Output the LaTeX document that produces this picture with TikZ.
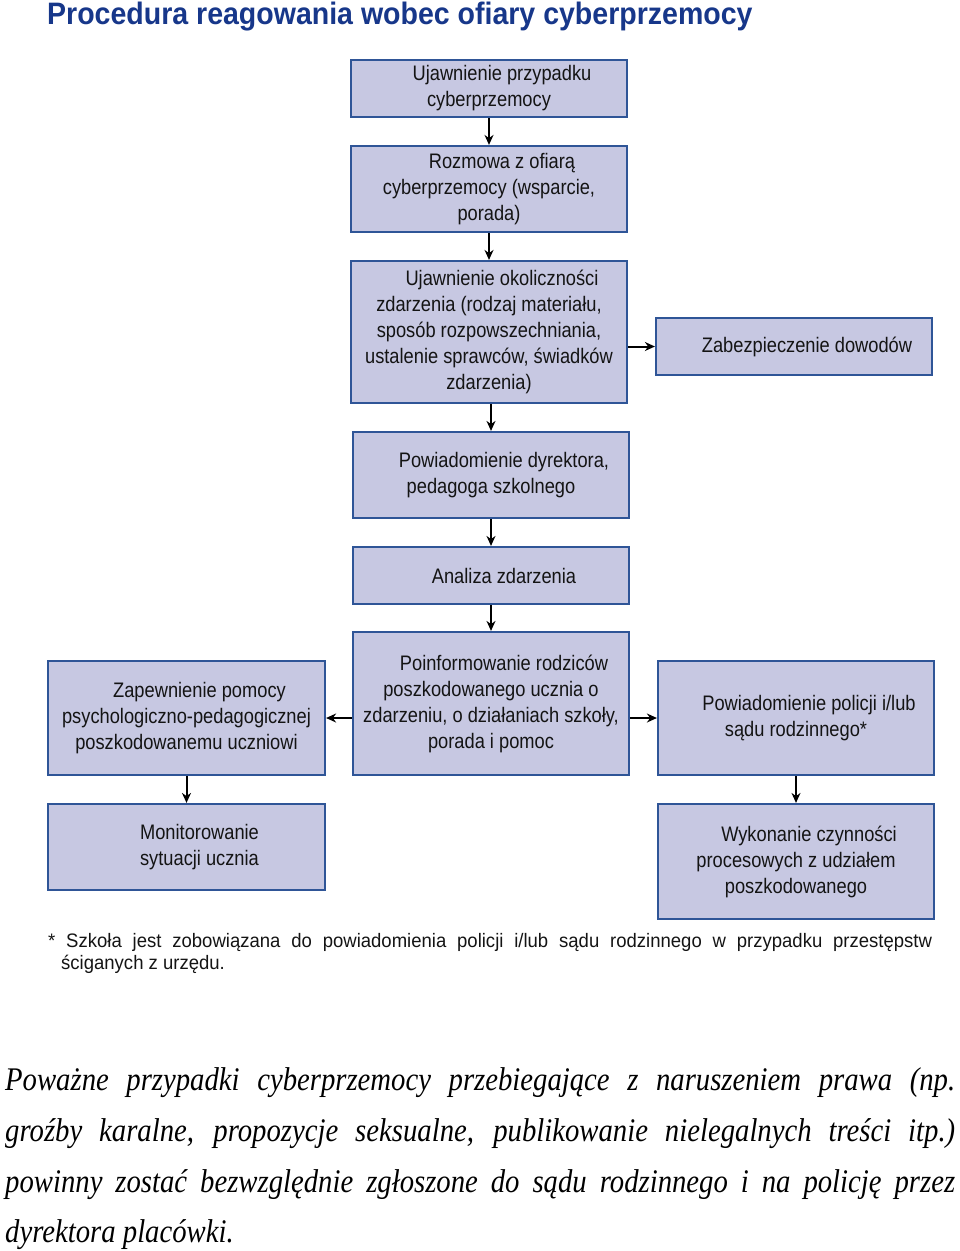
\documentclass[tikz,border=0pt]{standalone}
\usepackage{fontspec}
\setmainfont{Liberation Sans}[FakeStretch=0.87]
\newfontfamily\titlefont{Liberation Sans}[FakeStretch=0.92]
\newfontfamily\footsans{Liberation Sans}[FakeStretch=0.95]
\newfontfamily\serifit{Liberation Serif}[FakeStretch=0.87]
\usetikzlibrary{arrows.meta}
\definecolor{boxfill}{RGB}{199,200,226}
\definecolor{boxline}{RGB}{47,85,151}
\definecolor{titleblue}{RGB}{23,55,138}
\definecolor{txt}{RGB}{20,20,20}
\newcommand{\ind}{\hspace*{26pt}}
\begin{document}
\begin{tikzpicture}[x=1pt,y=-1pt,
  stepbox/.style={draw=boxline,line width=2.2pt,fill=boxfill,inner sep=0pt,
    align=center,text=txt,font=\fontsize{21}{26}\selectfont},
  arr/.style={-{Stealth[length=10pt,width=9pt]},line width=2pt,black},
  foot/.style={anchor=base west,inner sep=0pt,text=txt,font=\footsans\fontsize{19.5}{22}\selectfont},
  para/.style={anchor=base west,inner sep=0pt,font=\serifit\itshape\fontsize{33}{40}\selectfont}]
\useasboundingbox (0,0) rectangle (960,1251);
\fill[white] (0,0) rectangle (960,1251);
\node[anchor=base west,text=titleblue,font=\titlefont\bfseries\fontsize{31}{34}\selectfont,inner sep=0pt] (title) at (47,24) {Procedura reagowania wobec ofiary cyberprzemocy};

\node[stepbox,minimum width=276pt,minimum height=57pt] (b1) at (489,88.5) {\ind Ujawnienie przypadku\\cyberprzemocy};
\node[stepbox,minimum width=276pt,minimum height=86pt] (b2) at (489,189) {\ind Rozmowa z ofiarą\\cyberprzemocy (wsparcie,\\porada)};
\node[stepbox,minimum width=276pt,minimum height=142pt] (b3) at (489,332) {\ind Ujawnienie okoliczności\\zdarzenia (rodzaj materiału,\\sposób rozpowszechniania,\\ustalenie sprawców, świadków\\zdarzenia)};
\node[stepbox,minimum width=276pt,minimum height=57pt] (z) at (794,346.5) {\ind Zabezpieczenie dowodów};
\node[stepbox,minimum width=276pt,minimum height=86pt] (b4) at (491,475) {\ind Powiadomienie dyrektora,\\pedagoga szkolnego};
\node[stepbox,minimum width=276pt,minimum height=57pt] (b5) at (491,575.5) {\ind Analiza zdarzenia};
\node[stepbox,minimum width=276pt,minimum height=143pt] (b6) at (491,703.5) {\ind Poinformowanie rodziców\\poszkodowanego ucznia o\\zdarzeniu, o działaniach szkoły,\\porada i pomoc};
\node[stepbox,minimum width=277pt,minimum height=114pt] (l) at (186.5,718) {\ind Zapewnienie pomocy\\psychologiczno-pedagogicznej\\poszkodowanemu uczniowi};
\node[stepbox,minimum width=276pt,minimum height=114pt] (r) at (796,718) {\ind Powiadomienie policji i/lub\\sądu rodzinnego*};
\node[stepbox,minimum width=277pt,minimum height=86pt] (m) at (186.5,847) {\ind Monitorowanie\\\ind sytuacji ucznia};
\node[stepbox,minimum width=276pt,minimum height=115pt] (w) at (796,861.5) {\ind Wykonanie czynności\\procesowych z udziałem\\poszkodowanego};

\draw[arr] (b1.south) -- (b2.north);
\draw[arr] (b2.south) -- (b3.north);
\draw[arr] (b3.east |- z.west) -- (z.west);
\draw[arr] (b3.south -| b4.north) -- (b4.north);
\draw[arr] (b4.south) -- (b5.north);
\draw[arr] (b5.south) -- (b6.north);
\draw[arr] (b6.west |- l.east) -- (l.east);
\draw[arr] (b6.east |- r.west) -- (r.west);
\draw[arr] (l.south) -- (m.north);
\draw[arr] (r.south) -- (w.north);

\node[foot] (f1) at (48,947) {\makebox[884pt][s]{* Szkoła jest zobowiązana do powiadomienia policji i/lub sądu rodzinnego w przypadku przestępstw}};
\node[foot] (f2) at (61,969) {ściganych z urzędu.};

\node[para] (p1) at (5,1090) {\makebox[950pt][s]{Poważne przypadki cyberprzemocy przebiegające z naruszeniem prawa (np.}};
\node[para] (p2) at (5,1141) {\makebox[950pt][s]{groźby karalne, propozycje seksualne, publikowanie nielegalnych treści itp.)}};
\node[para] (p3) at (5,1192) {\makebox[950pt][s]{powinny zostać bezwzględnie zgłoszone do sądu rodzinnego i na policję przez}};
\node[para] (p4) at (5,1242) {dyrektora placówki.};
\end{tikzpicture}
\end{document}
